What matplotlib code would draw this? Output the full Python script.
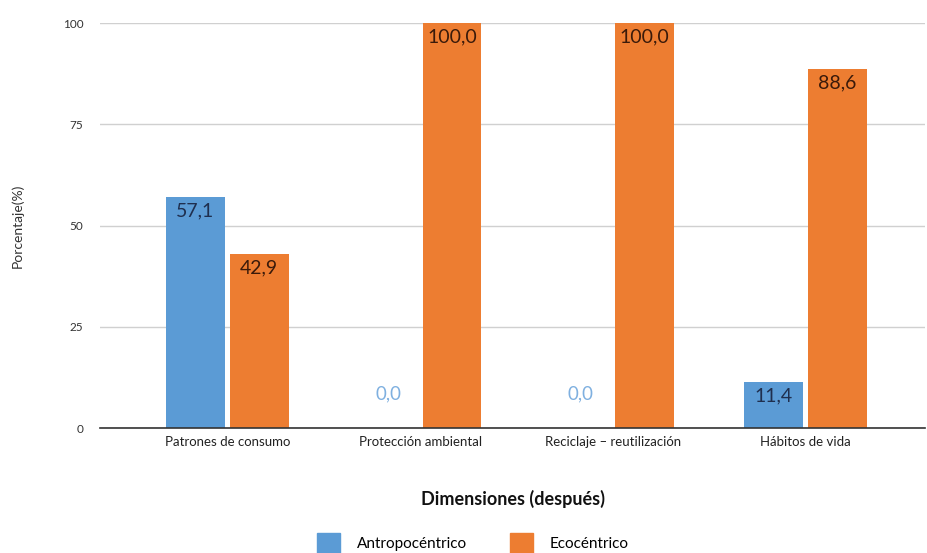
import matplotlib
matplotlib.use("Agg")
import matplotlib.pyplot as plt
import numpy as np
from matplotlib.patches import Patch

categories = ["Patrones de consumo", "Protección ambiental", "Reciclaje – reutilización", "Hábitos de vida"]
antropocentrico = [57.1, 0.0, 0.0, 11.4]
ecocentrico = [42.9, 100.0, 100.0, 88.6]
yticks = [0, 25, 50, 75, 100]

plt.rcParams['font.family'] = ['Lato', 'DejaVu Sans']

blue = "#5B9BD5"
orange = "#ED7D31"

fig = plt.figure(figsize=(9.27, 5.53), dpi=100)
ax = fig.add_axes([0.108, 0.226, 0.890, 0.732])

x = np.arange(len(categories))
w = 0.305
gap = 0.013
ax.bar(x - w/2 - gap, antropocentrico, w, color=blue)
ax.bar(x + w/2 + gap, ecocentrico, w, color=orange)

for xi, v in zip(x, antropocentrico):
    lbl = f"{v:.1f}".replace(".", ",")
    if v > 5:
        ax.text(xi - w/2 - gap, v - 1.3, lbl, ha="center", va="top", fontsize=14, color="#1f2f4f")
    else:
        ax.text(xi - w/2 - gap, v + 6.3, lbl, ha="center", va="bottom", fontsize=13.5, color="#7fb0e0")
for xi, v in zip(x, ecocentrico):
    lbl = f"{v:.1f}".replace(".", ",")
    ax.text(xi + w/2 + gap, v - 1.3, lbl, ha="center", va="top", fontsize=14, color="#3a1a0a")

ax.set_ylim(0, 100)
ax.set_xlim(-0.66, 3.62)
ax.set_yticks(yticks)
ax.set_yticklabels([str(t) for t in yticks], fontsize=8.5, color="#333333")
ax.set_xticks(x)
ax.set_xticklabels(categories, fontsize=9.5, color="#222222")
ax.tick_params(axis="y", length=0, pad=12)
ax.tick_params(axis="x", length=0, pad=6)
ax.yaxis.grid(True, color="#d0d0d0", linewidth=1)
ax.set_axisbelow(True)
for s in ["top", "right", "left"]:
    ax.spines[s].set_visible(False)
ax.spines["bottom"].set_color("#333333")
ax.spines["bottom"].set_linewidth(1.2)

ax.set_ylabel("Porcentaje(%)", fontsize=10, color="#333333", labelpad=28)
ax.set_xlabel("Dimensiones (después)", fontsize=13, fontweight="bold", color="#111111", labelpad=30)

handles = [Patch(color=blue, label="Antropocéntrico"), Patch(color=orange, label="Ecocéntrico")]
fig.legend(handles=handles, loc="center", bbox_to_anchor=(0.51, 0.018), ncol=2, frameon=False,
           fontsize=11, handlelength=1.5, handleheight=1.6, columnspacing=2.8, handletextpad=1.1)

fig.savefig("out.png", dpi=100)
